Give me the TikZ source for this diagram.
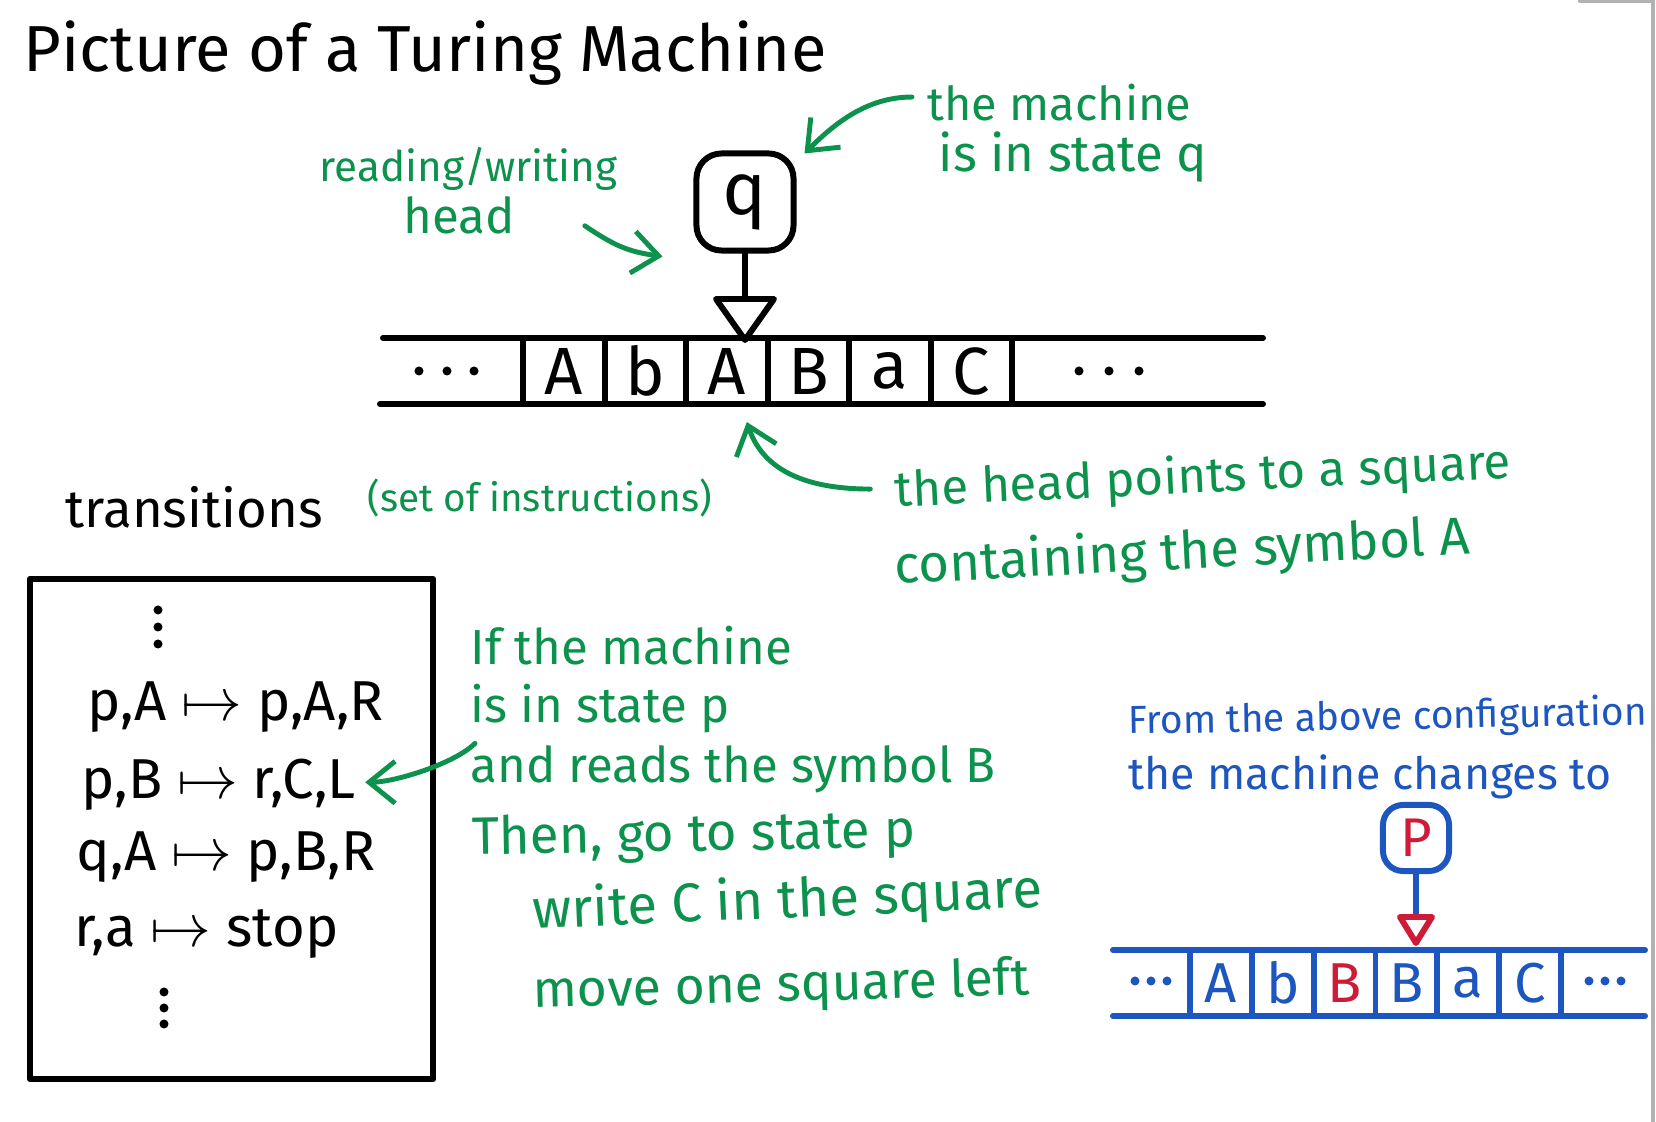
\documentclass[tikz,border=0pt]{standalone}
\usepackage{fontspec}
\setmainfont{Fira Sans}
\usetikzlibrary{arrows.meta,calc,positioning}
\definecolor{penGreen}{RGB}{12,146,76}
\definecolor{penBlue}{RGB}{28,86,190}
\definecolor{penRed}{RGB}{206,28,56}
\newcommand{\fs}[1]{\fontsize{#1}{#1}\selectfont}

\begin{document}
\begin{tikzpicture}[x=0.01cm,y=-0.01cm,line cap=round,line join=round,
  ink/.style={line width=1.7pt},
  note/.style={line width=1.4pt,draw=penGreen,-{Straight Barb[length=2.6mm,width=4.2mm]}},
  txt/.style={inner sep=0pt,anchor=base west},
  gtxt/.style={txt,text=penGreen,font=\fs{14}},
  btxt/.style={txt,text=penBlue,font=\fs{12.5}},
  cell/.style={draw,line width=1.7pt,outer sep=0pt,inner sep=0pt,
    minimum width=0.815cm,minimum height=0.66cm,font=\fs{19}},
  bcell/.style={cell,draw=penBlue,text=penBlue,minimum width=0.618cm,font=\fs{16}},
  headbox/.style={draw,line width=1.7pt,rounded corners=2.5mm,minimum size=0.97cm,font=\fs{21}},
  dot/.style={radius=0.045cm}]
  \useasboundingbox (0,0) rectangle (1656,1122);
  % paper edge
  \draw[gray!60,line width=1.2pt] (1653,0) -- (1653,1122);
  \draw[gray!60,line width=1.2pt] (1580,1) -- (1650,1);

  \node[txt,font=\fs{18.5}] (title) at (23,72) {Picture of a Turing Machine};

  % first tape
  \node[headbox] (qbox) at (745,202) {q};
  \coordinate (qtri) at (745,299);
  \draw[ink] (qbox.south) -- (qtri);
  \draw[ink] (qtri) ++(-29,0) -- ++(58,0) -- (745,340) -- cycle;
  \coordinate (tl) at (383,338);
  \coordinate (tr) at (1263,338);
  \coordinate (bl) at (380,404);
  \coordinate (br) at (1263,404);
  \draw[ink] (tl) -- (tr);
  \draw[ink] (bl) -- (br);
  \node[cell] (c1) at (563.75,371) {A};
  \node[cell,right=0pt of c1] (c2) {b};
  \node[cell,right=0pt of c2] (c3) {A};
  \node[cell,right=0pt of c3] (c4) {B};
  \node[cell,right=0pt of c4] (c5) {a};
  \node[cell,right=0pt of c5] (c6) {C};
  \fill (419,371) circle[dot] (447,371) circle[dot] (474,371) circle[dot];
  \fill (1079,371) circle[dot] (1109,371) circle[dot] (1139,371) circle[dot];

  % green notes on the tape
  \node[gtxt,font=\fs{12}] (rw1) at (319,182) {reading/writing};
  \node[gtxt] (rw2) at (403,234) {head};
  \node[gtxt,font=\fs{13.3}] (st1) at (927,121) {the machine};
  \node[gtxt,font=\fs{14.5}] (st2) at (938,172) {is in state q};
  \node[gtxt,rotate=2.7] (sq1) at (895,507) {the head points to a square};
  \node[gtxt,rotate=3,font=\fs{15}] (sq2) at (895,584) {containing the symbol A};
  \draw[note] ($(st1.west)+(-15,-6)$) .. controls +(-45,0) and +(30,-30) .. ($(qbox.north east)+(8,3)$);
  \draw[note] ($(rw2.east)+(69,10)$) .. controls +(30,20) and +(-35,-5) .. ($(qbox.south west)+(-31,3)$);
  \draw[note] ($(sq1.west)+(-24,-4)$) .. controls +(-70,0) and +(15,45) .. ($(c3.south)+(20,18)$);

  % transitions
  \node[txt,font=\fs{15}] (trans) at (65,528) {transitions};
  \node[gtxt,font=\fs{11}] (instr) at (367,512) {(set of instructions)};
  \node[draw,line width=1.7pt,minimum width=4.03cm,minimum height=5cm] (rules) at (231.5,829) {};
  \fill (158,610) circle[dot] (158,627) circle[dot] (158,644) circle[dot];
  \node[txt,font=\fs{16}] (tr1) at (87,721) {p,A $\mapsto$ p,A,R};
  \node[txt,font=\fs{16}] (tr2) at (81,799) {p,B $\mapsto$ r,C,L};
  \node[txt,font=\fs{16}] (tr3) at (76,871) {q,A $\mapsto$ p,B,R};
  \node[txt,font=\fs{16}] (tr4) at (74,947) {r,a $\mapsto$ stop};
  \fill (164,992) circle[dot] (164,1008) circle[dot] (164,1024) circle[dot];

  % reading of one rule
  \node[gtxt] (if1) at (470,665) {If the machine};
  \node[gtxt] (if2) at (470,723) {is in state p};
  \node[gtxt] (if3) at (470,783) {and reads the symbol B};
  \node[gtxt,rotate=1,font=\fs{15}] (do1) at (472,855) {Then, go to state p};
  \node[gtxt,rotate=2.5,font=\fs{15.5}] (do2) at (533,929) {write C in the square};
  \node[gtxt,rotate=1.5,font=\fs{14.7}] (do3) at (533,1008) {move one square left};
  \draw[note] ($(if3.north west)+(5,-2)$) .. controls +(-20,20) and +(30,0) .. ($(tr2.east)+(9,-3)$);

  % next configuration
  \node[btxt,rotate=1,font=\fs{11.1}] (fr1) at (1128,734) {From the above configuration};
  \node[btxt,font=\fs{12.7}] (fr2) at (1128,790) {the machine changes to};
  \node[headbox,draw=penBlue,text=penRed,minimum size=0.66cm,rounded corners=2mm,font=\fs{15.5}] (pbox) at (1416,838) {P};
  \coordinate (ptri) at (1416,917);
  \draw[ink,penBlue] (pbox.south) -- (ptri);
  \draw[ink,penRed] (ptri) ++(-16,0) -- ++(32,0) -- (1416,943) -- cycle;
  \draw[ink,penBlue] (1113,950) -- (1645,950);
  \draw[ink,penBlue] (1113,1016) -- (1645,1016);
  \node[bcell] (b1) at (1220.9,983) {A};
  \node[bcell,right=0pt of b1] (b2) {b};
  \node[bcell,right=0pt of b2,text=penRed] (b3) {B};
  \node[bcell,right=0pt of b3] (b4) {B};
  \node[bcell,right=0pt of b4] (b5) {a};
  \node[bcell,right=0pt of b5] (b6) {C};
  \fill[penBlue] (1135,981) circle[dot] (1151,981) circle[dot] (1167,981) circle[dot];
  \fill[penBlue] (1589,981) circle[dot] (1605,981) circle[dot] (1621,981) circle[dot];
\end{tikzpicture}
\end{document}
